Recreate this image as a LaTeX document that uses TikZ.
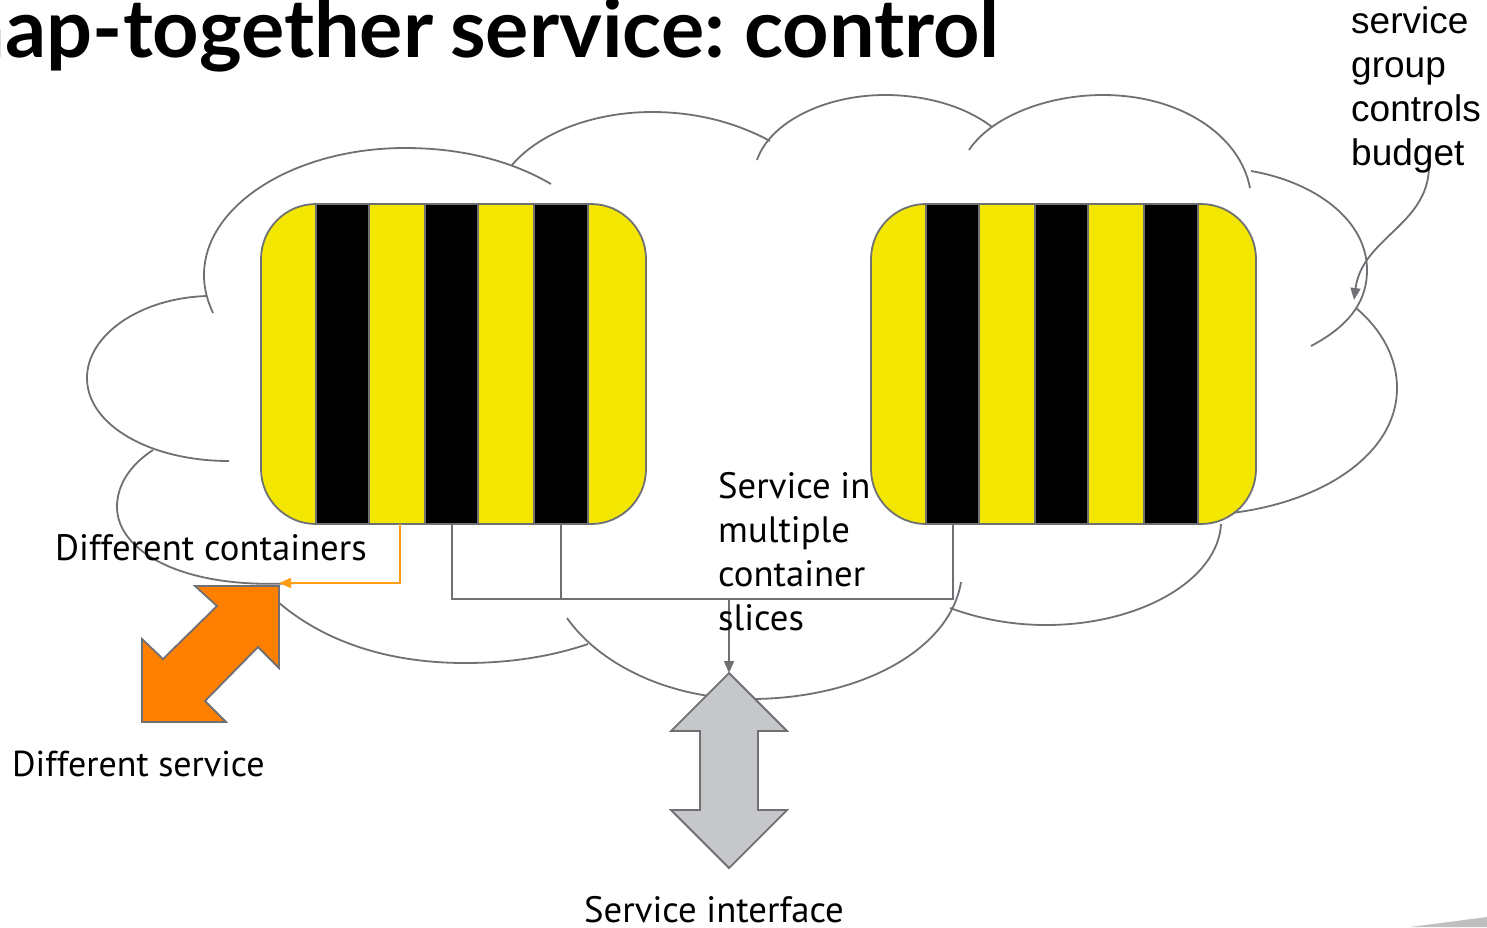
\documentclass[tikz,border=0pt]{standalone}
\usepackage{fontspec}
\setmainfont{PT Sans}
\newfontfamily\titlefont{Lato}[BoldFont=Lato Bold]
\newfontfamily\armfont{Liberation Sans}
\usetikzlibrary{arrows.meta,calc}
\definecolor{linegray}{HTML}{6F7074}
\definecolor{barY}{HTML}{F3E600}
\definecolor{arrowO}{HTML}{FF8000}
\definecolor{arrowG}{HTML}{C6C7C9}
\definecolor{wireO}{HTML}{FF9E14}
\tikzset{
  cloudline/.style={draw=linegray,line width=1.8pt},
  wire/.style={draw=linegray,line width=1.8pt},
  tipgray/.style={-{Triangle[length=12pt,width=10pt,color=linegray]}},
  tiporange/.style={-{Triangle[length=12pt,width=10pt,color=wireO]}},
  blockarrow/.style={draw=linegray,line width=1.8pt,line join=miter},
  slicebox/.style={minimum width=385pt,minimum height=320pt,inner sep=0pt,rounded corners=55pt,outer sep=0pt},
  label/.style={inner sep=0pt,anchor=base west,align=left,font=\fontsize{36.7}{44}\selectfont},
  armlabel/.style={inner sep=0pt,anchor=base west,align=left,font=\armfont\fontsize{37}{44}\selectfont},
}
\begin{document}
\begin{tikzpicture}[x=1pt,y=-1pt]
\useasboundingbox (0,0) rectangle (1487,927);
\clip (0,0) rectangle (1487,927);

% cloud
\draw[cloudline] (213,313) .. controls (207,300) and (204,288) .. (204,275) .. controls (204,205) and (295,148) .. (405,148) .. controls (460,148) and (510,160) .. (551,184);
\draw[cloudline] (512,165) .. controls (540,132) and (595,112) .. (652,112) .. controls (695,112) and (735,122) .. (770,141);
\draw[cloudline] (757,160) .. controls (770,122) and (825,95) .. (885,95) .. controls (925,95) and (965,106) .. (992,127);
\draw[cloudline] (969,150) .. controls (990,118) and (1045,95) .. (1103,95) .. controls (1180,95) and (1240,135) .. (1250,188);
\draw[cloudline] (1251,171) .. controls (1315,182) and (1367,220) .. (1367,270) .. controls (1367,305) and (1345,328) .. (1311,346);
\draw[cloudline] (1356,308) .. controls (1382,330) and (1397,358) .. (1397,388) .. controls (1397,455) and (1320,505) .. (1222,514);
\draw[cloudline] (1221,524) .. controls (1218,580) and (1140,625) .. (1046,625) .. controls (1012,625) and (980,619) .. (950,608);
\draw[cloudline] (961,582) .. controls (950,650) and (860,699) .. (750,699) .. controls (670,699) and (600,665) .. (567,618);
\draw[cloudline] (588,644) .. controls (550,657) and (508,663) .. (465,663) .. controls (385,663) and (315,640) .. (265,590);
\draw[cloudline] (153,450) .. controls (130,465) and (117,485) .. (117,507) .. controls (117,550) and (180,590) .. (295,583);
\draw[cloudline] (229,461) .. controls (150,461) and (87,425) .. (87,378) .. controls (87,335) and (140,298) .. (207,296);

% containers
\foreach \n/\ox in {boxL/0,boxR/610}{
  \begin{scope}[xshift=\ox pt]
    \begin{scope}
      \clip[rounded corners=55pt] (261,204) rectangle (646,524);
      \fill[barY] (261,204) rectangle (646,524);
      \foreach \a/\b in {316/369,425/478,534/588}{
        \fill[black] (\a,204) rectangle (\b,524);
        \draw[linegray,line width=1.8pt] (\a,204) -- (\a,524) (\b,204) -- (\b,524);
      }
    \end{scope}
    \node[slicebox,draw=linegray,line width=1.8pt,anchor=north west] (\n) at (261,204) {};
  \end{scope}
}

% block arrows
\draw[blockarrow,fill=arrowG] (729,673) -- (787,731) -- (758,731) -- (758,810) -- (787,810) -- (729,868) -- (671,810) -- (700,810) -- (700,731) -- (671,731) -- cycle;
\draw[blockarrow,fill=arrowO] (195,586) -- (279,586) -- (279,668) -- (258,647) -- (205,701) -- (226,722) -- (142,722) -- (142,639) -- (163,659) -- (217,606) -- cycle;

% connectors
\coordinate (busA) at ($(boxL.south west)+(191,0)$);
\coordinate (busB) at ($(boxL.south west)+(300,0)$);
\coordinate (busC) at ($(boxR.south west)+(82,0)$);
\coordinate (busAb) at (busA |- 0,599);
\coordinate (busBb) at (busB |- 0,599);
\coordinate (busCb) at (busC |- 0,599);
\coordinate (busM) at (729,599);
\coordinate (ifaceTip) at (729,673);
\draw[wire] (busA) -- (busAb) -- (busCb) -- (busC);
\draw[wire] (busB) -- (busBb);
\draw[wire,tipgray] (busM) -- (ifaceTip);
\coordinate (orgA) at ($(boxL.south west)+(139,0)$);
\coordinate (orgB) at (orgA |- 0,583);
\coordinate (orgC) at (279,583);
\draw[draw=wireO,line width=1.8pt,tiporange] (orgA) -- (orgB) -- (orgC);
\coordinate (curlA) at (1429,167);
\coordinate (curlB) at (1354,300);
\draw[wire,tipgray] (curlA) .. controls (1428,225) and (1362,238) .. (curlB);

% corner streak
\fill[black!25] (1410,927) -- (1487,917) -- (1487,927) -- cycle;

% texts
\node[inner sep=0pt,anchor=base east,font=\titlefont\bfseries\fontsize{81}{90}\selectfont] (title) at (1000,57) {nap-together\hspace{17pt}service:\hspace{19pt}control};
\node[armlabel] (groupl) at (1351,165) {service\\group\\controls\\budget};
\node[label] (diffc) at (55,560) {Different containers};
\node[label,font=\fontsize{36}{44}\selectfont] (diffs) at (12,776) {Different service};
\node[label] (multi) at (718,630) {Service in\\multiple\\container\\slices};
\node[label] (ifacel) at (584,922) {Service interface};
\end{tikzpicture}
\end{document}
